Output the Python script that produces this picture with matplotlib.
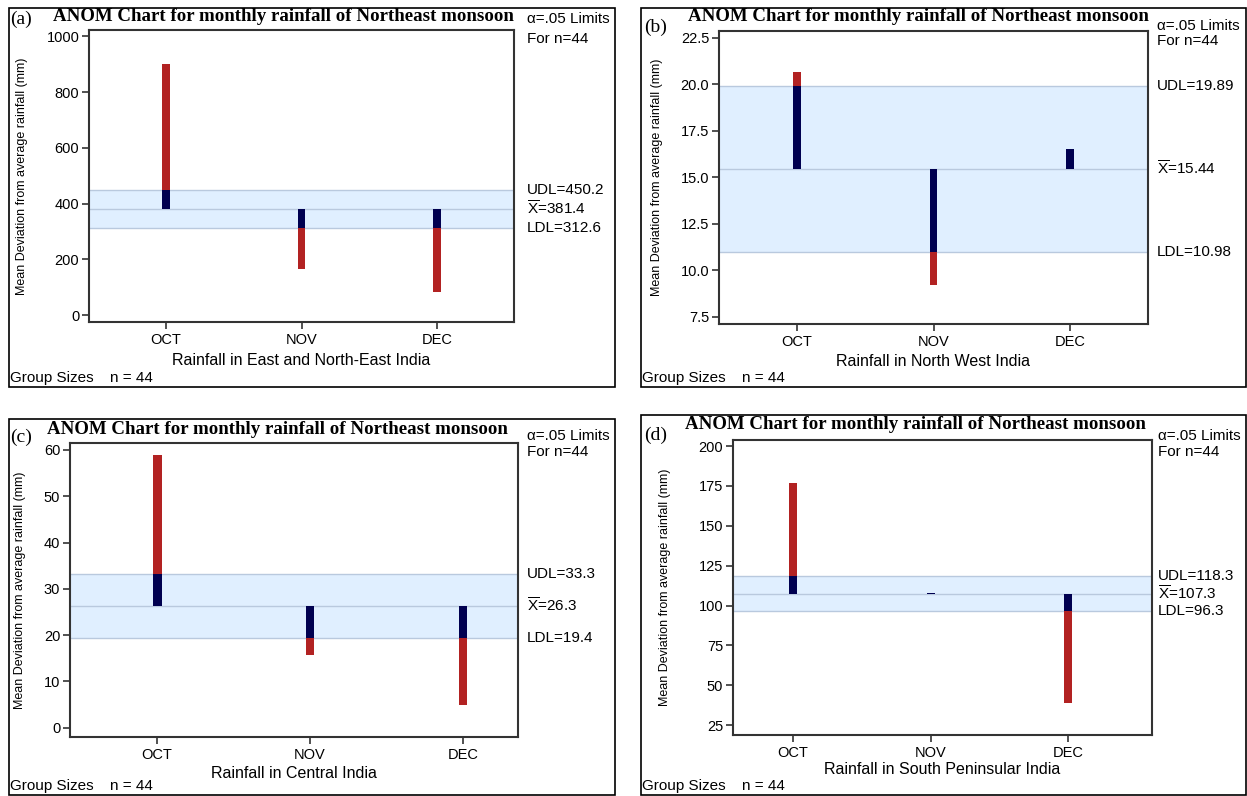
import matplotlib
matplotlib.use("Agg")
import matplotlib.pyplot as plt
from matplotlib.patches import Rectangle

plt.rcParams['font.family'] = ['Liberation Sans', 'DejaVu Sans']
plt.rcParams['mathtext.fontset'] = 'custom'
plt.rcParams['mathtext.rm'] = 'Liberation Sans'
plt.rcParams['mathtext.it'] = 'Liberation Sans'

# ---------------- data ----------------
months = ['OCT', 'NOV', 'DEC']

vals_a = [900.0, 165.0, 84.0]
limits_a = [312.6, 381.4, 450.2]          # LDL, mean, UDL
ticks_a = [0, 200, 400, 600, 800, 1000]
xlabel_a = 'Rainfall in East and North-East India'

vals_b = [20.66, 9.19, 16.49]
limits_b = [10.98, 15.44, 19.89]
ticks_b = [7.5, 10.0, 12.5, 15.0, 17.5, 20.0, 22.5]
xlabel_b = 'Rainfall in North West India'

vals_c = [58.9, 15.8, 5.0]
limits_c = [19.4, 26.3, 33.3]
ticks_c = [0, 10, 20, 30, 40, 50, 60]
xlabel_c = 'Rainfall in Central India'

vals_d = [176.8, 107.6, 38.8]
limits_d = [96.3, 107.3, 118.3]
ticks_d = [25, 50, 75, 100, 125, 150, 175, 200]
xlabel_d = 'Rainfall in South Peninsular India'

limit_fmt = ['{:.1f}', '{:.2f}', '{:.1f}', '{:.1f}']
panel_tags = ['(a)', '(b)', '(c)', '(d)']
title = 'ANOM Chart for monthly rainfall of Northeast monsoon'
ylabel = 'Mean Deviation from average rainfall (mm)'
group_label = 'Group Sizes'
group_n = 'n = 44'

# ---------------- layout (pixels) ----------------
W, H = 1247, 796
fig = plt.figure(figsize=(W / 100, H / 100), dpi=100)

NAVY = '#000050'
RED = '#B22222'
BAND = '#E0EFFF'
BLINE = '#B9C9DE'

panels = [
    dict(vals=vals_a, lim=limits_a, ticks=ticks_a, xl=xlabel_a, tickfmt='{:g}',
         frame=(9, 8, 615, 387), ax=(89, 30, 514, 322), ylim=(-25, 1023), xlim=(0.43, 3.57),
         title_xy=(283, 21), tag_xy=(10, 19), alpha_y=(19, 39), xl_y=361, lab_dx=13),
    dict(vals=vals_b, lim=limits_b, ticks=ticks_b, xl=xlabel_b, tickfmt='{:.1f}',
         frame=(641, 8, 1246, 387), ax=(719, 31, 1148, 324), ylim=(7.1, 22.85), xlim=(0.43, 3.57),
         title_xy=(918, 21), tag_xy=(644, 27), alpha_y=(26, 41), xl_y=362, lab_dx=9),
    dict(vals=vals_c, lim=limits_c, ticks=ticks_c, xl=xlabel_c, tickfmt='{:g}',
         frame=(9, 419, 615, 795), ax=(70, 443, 518, 737), ylim=(-2, 61.5), xlim=(0.43, 3.36),
         title_xy=(277, 434), tag_xy=(10, 437), alpha_y=(436, 452), xl_y=773, lab_dx=9),
    dict(vals=vals_d, lim=limits_d, ticks=ticks_d, xl=xlabel_d, tickfmt='{:g}',
         frame=(641, 415, 1246, 795), ax=(733, 440, 1152, 735), ylim=(18.8, 203.8), xlim=(0.564, 3.61),
         title_xy=(915, 429), tag_xy=(644, 435), alpha_y=(436, 452), xl_y=770, lab_dx=6),
]


def fx(px):
    return px / W


def fy(py):
    return 1 - py / H


for k, p in enumerate(panels):
    fl, ft, fr, fb = p['frame']
    fig.patches.append(Rectangle((fx(fl), fy(fb)), fx(fr - fl), (fb - ft) / H,
                                 transform=fig.transFigure, fill=False,
                                 edgecolor='black', linewidth=1.2, zorder=0))
    l, t, r, b = p['ax']
    ax = fig.add_axes([fx(l), fy(b), fx(r - l), (b - t) / H])
    L, M, U = p['lim']
    ax.axhspan(L, U, color=BAND, zorder=0, lw=0)
    for yv in (L, M, U):
        ax.axhline(yv, color=BLINE, lw=1.0, zorder=1)
    xs = [1, 2, 3]
    bw = 0.058
    for x, v in zip(xs, p['vals']):
        if v >= M:
            inner_top = min(v, U)
            ax.bar(x, inner_top - M, bottom=M, width=bw, color=NAVY, zorder=3, lw=0)
            if v > U:
                ax.bar(x, v - U, bottom=U, width=bw, color=RED, zorder=3, lw=0)
        else:
            inner_bot = max(v, L)
            ax.bar(x, M - inner_bot, bottom=inner_bot, width=bw, color=NAVY, zorder=3, lw=0)
            if v < L:
                ax.bar(x, L - v, bottom=v, width=bw, color=RED, zorder=3, lw=0)
    ax.set_xlim(*p['xlim'])
    ax.set_ylim(*p['ylim'])
    ax.set_xticks(xs)
    ax.set_xticklabels(months, fontsize=10.5)
    ax.set_yticks(p['ticks'])
    ax.set_yticklabels([p['tickfmt'].format(t_) for t_ in p['ticks']], fontsize=10.5)
    ax.tick_params(direction='out', length=5, width=1.2, color='#333333', pad=2)
    ax.tick_params(axis='x', length=5, pad=3)
    for s in ax.spines.values():
        s.set_linewidth(1.5)
        s.set_color('#333333')
    ax.set_ylabel(ylabel, fontsize=9, labelpad=13 if k != 3 else 20)
    # x label
    fig.text(fx((l + r) / 2), fy(p['xl_y']), p['xl'], ha='center', va='center', fontsize=11.5)
    # title
    tx, ty = p['title_xy']
    fig.text(fx(tx), fy(ty), title, ha='center', va='baseline', fontsize=13.6,
             fontweight='bold', family='Liberation Serif')
    # panel tag
    gx, gy = p['tag_xy']
    fig.text(fx(gx), fy(gy), panel_tags[k], ha='left', va='center',
             family='Liberation Serif', fontsize=14)
    # alpha limits
    a1, a2 = p['alpha_y']
    fig.text(fx(r + p['lab_dx']), fy(a1), 'α=.05 Limits', ha='left', va='center', fontsize=11)
    fig.text(fx(r + p['lab_dx']), fy(a2), 'For n=44', ha='left', va='center', fontsize=11)
    # limit labels
    fmt = limit_fmt[k]
    xo = 1.0 + p['lab_dx'] / (r - l)
    ytr = ax.get_yaxis_transform()
    ax.text(xo, U, 'UDL=' + fmt.format(U), transform=ytr, ha='left', va='center',
            fontsize=11, clip_on=False)
    ax.text(xo, M, r'$\overline{X}$=' + fmt.format(M), transform=ytr, ha='left', va='center',
            fontsize=11, clip_on=False)
    ax.text(xo, L, 'LDL=' + fmt.format(L), transform=ytr, ha='left', va='center',
            fontsize=11, clip_on=False)
    # group sizes
    fig.text(fx(fl + 1), fy(fb - 9), group_label, ha='left', va='center', fontsize=11)
    fig.text(fx(fl + 101), fy(fb - 9), group_n, ha='left', va='center', fontsize=11)

fig.savefig('out.png', dpi=100)
